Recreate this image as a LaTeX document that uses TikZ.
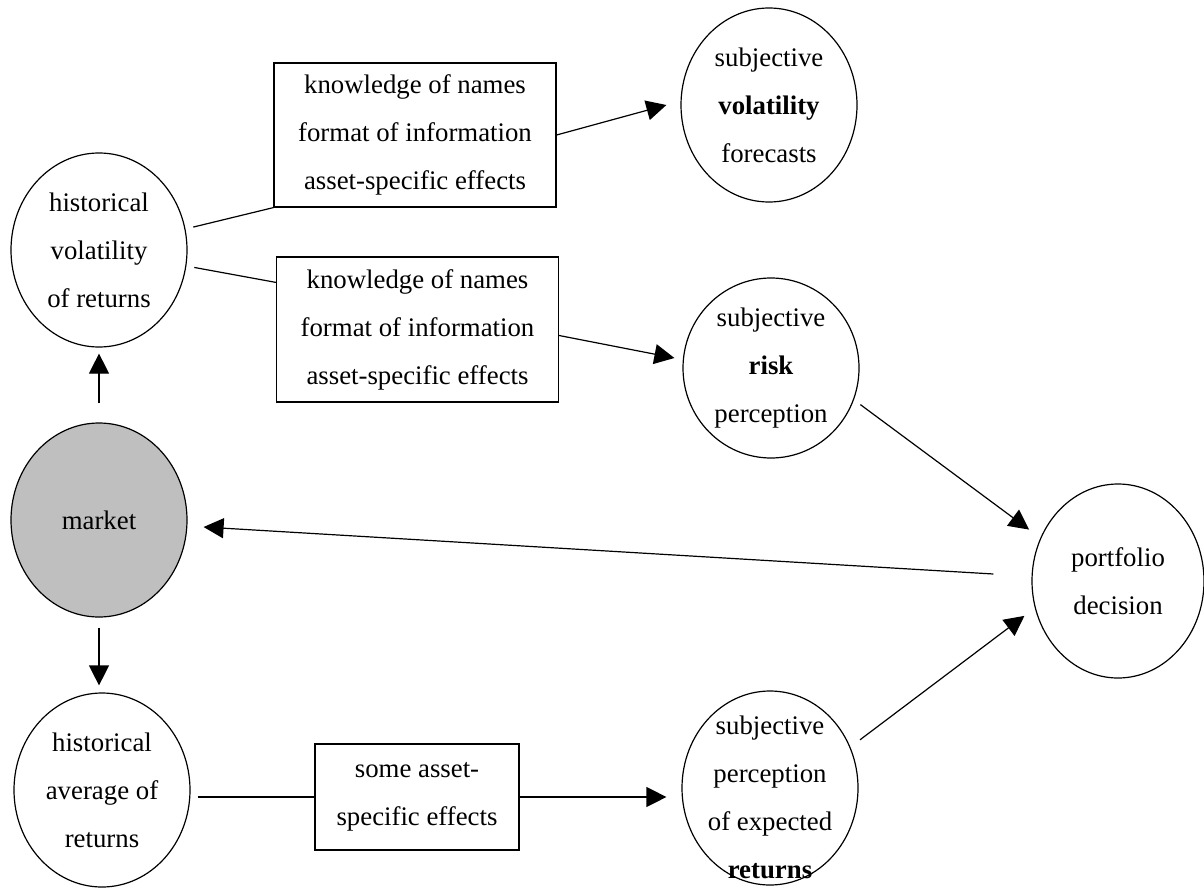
\documentclass[tikz,border=0pt]{standalone}
\usepackage{fontspec}
\setmainfont{Liberation Serif}
\usetikzlibrary{arrows.meta,calc,shapes.geometric}

\begin{document}
\begin{tikzpicture}[x=0.5pt,y=-0.5pt,>={Triangle[length=10pt,width=10pt]},line width=0.6pt,
  every node/.style={font=\fontsize{13.4}{24}\selectfont},
  bubble/.style={draw,ellipse,minimum width=88pt,minimum height=97pt,inner sep=0pt,align=center},
  infobox/.style={draw,rectangle,inner sep=0pt,align=center}]
  \useasboundingbox (0,0) rectangle (1204,888);

  % Left column: history and market
  \node[bubble] (hvol) at (99,250) {historical\\volatility\\of returns};
  \node[bubble,fill=black!25] (mkt) at (99,520) {market};
  \node[bubble] (havg) at (102,790) {historical\\average of\\returns};

  % Filter boxes
  \node[infobox,minimum width=141pt,minimum height=72pt] (kvol) at (415,135)
    {knowledge of names\\format of information\\asset-specific effects};
  \node[infobox,minimum width=141pt,minimum height=72.5pt] (krisk) at (417.5,329.5)
    {knowledge of names\\format of information\\asset-specific effects};
  \node[infobox,minimum width=102pt,minimum height=53pt] (kavg) at (417,797)
    {some asset-\\specific effects};

  % Subjective judgements and decision
  \node[bubble] (svol) at (769,105) {subjective\\\textbf{volatility}\\forecasts};
  \node[bubble,minimum height=90pt] (srisk) at (771,368) {subjective\\\textbf{risk}\\perception};
  \node[bubble] (sret) at (770,788) {};
  \node[align=center] (sretlbl) at (770,797) {subjective\\perception\\of expected\\\textbf{returns}};
  \node[bubble,minimum width=86pt] (pdec) at (1118,581) {portfolio\\decision};

  % Connectors on the volatility/risk side
  \draw[shorten <=4pt] (hvol) -- (kvol.south west);
  \draw[->] (kvol.east) -- ([xshift=-7pt]svol.west);
  \draw[shorten <=4pt] (hvol) -- ([yshift=-13pt]krisk.north west);
  \draw[->] ([yshift=-3pt]krisk.east) -- ([xshift=-4pt,yshift=5pt]srisk.west);
  \draw[->,shorten <=9.5pt,shorten >=3pt] (mkt) -- (hvol);

  % Connectors on the returns side
  \draw[->,shorten <=5pt,shorten >=3.5pt] (mkt.south) -- (mkt.south |- havg.north);
  \draw[shorten <=3.5pt] (kavg.west -| havg.east) -- (kavg.west);
  \draw[->,shorten >=7.5pt] (kavg.east) -- (kavg.east -| sret.west);

  % Into the decision and back to the market
  \draw[->,shorten <=4pt,shorten >=7pt] (srisk.-21) -- (pdec.151);
  \draw[->,shorten <=6pt,shorten >=6.5pt] (sret.27) -- (pdec.198);
  \draw[->] ([xshift=-19pt,yshift=3.5pt]pdec.west) -- ([xshift=8pt,yshift=-3.5pt]mkt.east);
\end{tikzpicture}
\end{document}
